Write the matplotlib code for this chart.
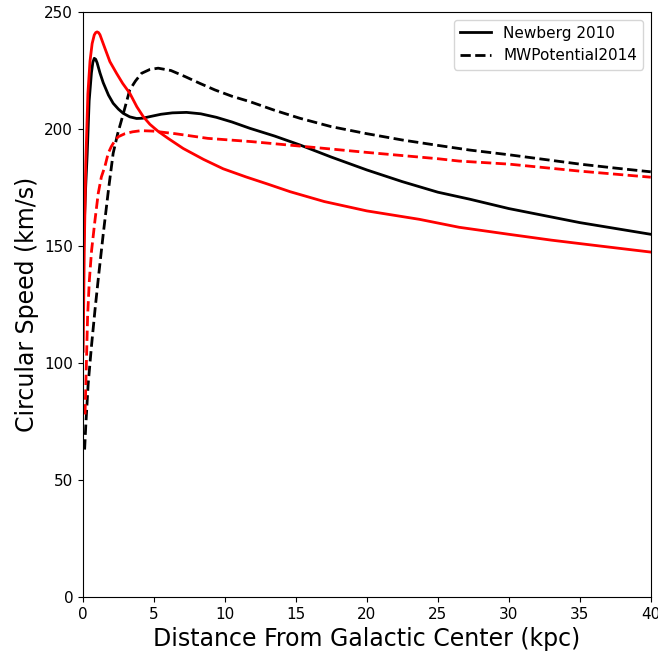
import matplotlib
matplotlib.use("Agg")
import matplotlib.pyplot as plt

# Rotation curves: circular speed (km/s) vs galactocentric distance (kpc)
newberg_black_r = [0.02, 0.1, 0.2, 0.3, 0.44, 0.6, 0.7, 0.8, 0.9, 1.0, 1.2, 1.43, 1.8, 2.13,
                   2.5, 2.84, 3.3, 3.78, 4.2, 4.72, 5.5, 6.3, 7.3, 8.3, 9.4, 10.5, 11.76, 13.5,
                   15.28, 17.5, 20, 22.5, 25, 27.25, 30, 32.5, 35, 37.5, 40]
newberg_black_v = [140, 160, 176, 189, 212, 224, 228.5, 230.2, 229.8, 228.3, 224, 219.8, 214.5,
                   211, 208.5, 206.7, 205.2, 204.5, 204.6, 205.3, 206.3, 206.9, 207.1, 206.5,
                   205, 203, 200.3, 197, 193.2, 188, 182.5, 177.5, 173, 170, 166, 163, 160,
                   157.5, 155]

newberg_red_r = [0.02, 0.1, 0.2, 0.35, 0.5, 0.65, 0.8, 0.9, 1.0, 1.1, 1.2, 1.55, 1.9, 2.37,
                 2.8, 3.31, 3.8, 4.25, 4.72, 5.3, 6.0, 7.06, 8.5, 9.88, 11.5, 13, 14.6, 17,
                 20, 23.7, 26.5, 30, 33, 36, 40]
newberg_red_v = [105, 150, 185, 215, 229, 236.5, 240.2, 241.2, 241.5, 241.2, 240.3, 234.5,
                 228.8, 223.8, 219.5, 215.2, 209.5, 205.3, 202, 199, 196, 191.7, 187, 183,
                 179.5, 176.5, 173.2, 169, 165, 161.4, 158, 155, 152.5, 150.3, 147.4]

mw_black_r = [0.12, 0.2, 0.37, 0.6, 0.85, 1.1, 1.43, 1.8, 2.13, 2.45, 2.72, 3.0, 3.3, 3.7,
              4.13, 4.7, 5.3, 6.2, 7.2, 8.24, 9.3, 10.5, 11.76, 13.5, 15.28, 17.5, 20, 22.5,
              25, 27.25, 30, 32.5, 35, 37.5, 40]
mw_black_v = [63, 73, 91, 107, 122.6, 137, 155, 174, 189.6, 198, 203.8, 210, 216.7, 220.5,
              223.8, 225.4, 226, 225, 222.4, 219.5, 216.7, 214, 211.7, 208, 204.6, 201, 198,
              195.3, 193, 191, 189, 187, 185, 183.3, 181.7]

mw_red_r = [0.15, 0.21, 0.33, 0.45, 0.61, 0.85, 1.08, 1.3, 1.55, 1.78, 2.0, 2.25, 2.49, 2.96,
            3.5, 4.1, 4.95, 6.5, 8.8, 11.9, 15.28, 20, 25, 26.5, 30, 35, 40]
mw_red_v = [78, 91.4, 119.8, 135, 148, 161, 172.5, 179.5, 184, 189.6, 192.5, 195, 196.7, 198,
            198.8, 199.3, 199.1, 198, 196, 194.6, 192.7, 190, 187.3, 186.3, 185, 182, 179.4]

fig = plt.figure(figsize=(6.58, 6.53), dpi=100)
ax = fig.add_axes([0.126, 0.0858, 0.863, 0.8958])

lw = 2.0
ax.plot(newberg_black_r, newberg_black_v, color="black", lw=lw, label="Newberg 2010")
ax.plot(mw_black_r, mw_black_v, color="black", lw=lw, ls="--", label="MWPotential2014")
ax.plot(newberg_red_r, newberg_red_v, color="red", lw=lw)
ax.plot(mw_red_r, mw_red_v, color="red", lw=lw, ls="--")

ax.set_xlim(0, 40)
ax.set_ylim(0, 250)
ax.tick_params(labelsize=11)
ax.set_xlabel("Distance From Galactic Center (kpc)", fontsize=17)
ax.set_ylabel("Circular Speed (km/s)", fontsize=17)
ax.legend(loc="upper right", fontsize=11)

fig.savefig("out.png", dpi=100)
